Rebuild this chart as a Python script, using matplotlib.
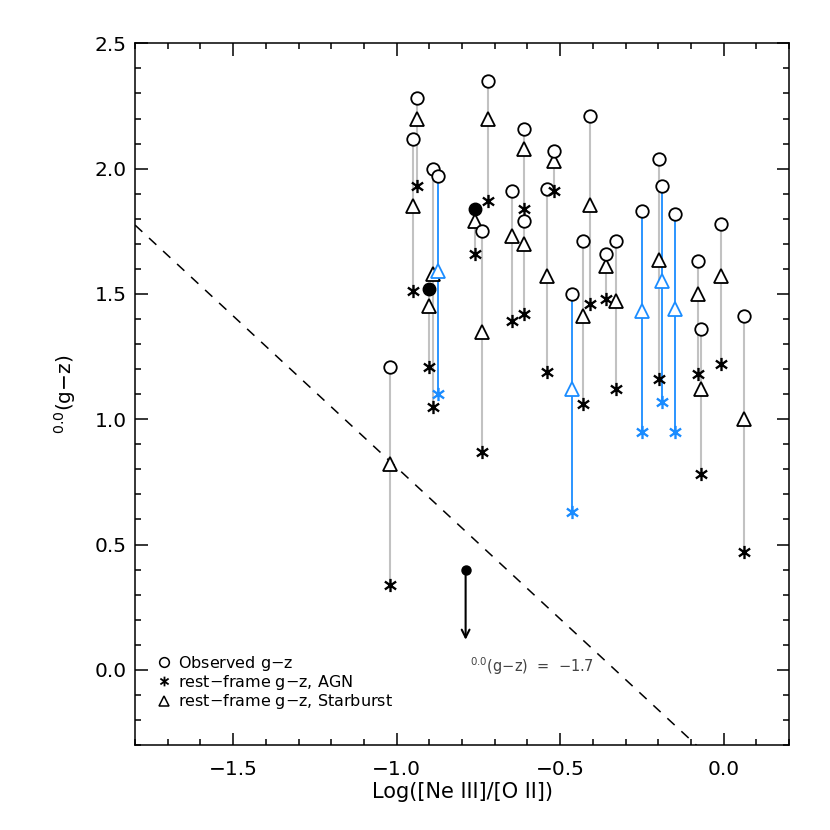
import numpy as np
import matplotlib
matplotlib.use('Agg')
import matplotlib.pyplot as plt
from matplotlib.path import Path
from matplotlib.lines import Line2D
from matplotlib.ticker import MultipleLocator

plt.rcParams['font.family'] = ['DejaVu Sans']
plt.rcParams['mathtext.default'] = 'regular'

# log([Ne III]/[O II]) of each object
x_ne = [-1.020, -0.950, -0.939, -0.900, -0.890, -0.873, -0.760, -0.739, -0.720,
        -0.648, -0.609, -0.609, -0.539, -0.519, -0.463, -0.429, -0.408, -0.359,
        -0.329, -0.251, -0.198, -0.189, -0.150, -0.078, -0.069, -0.008, 0.062]
# observed g-z (circles)
gz_obs = [1.21, 2.12, 2.28, 1.52, 2.00, 1.97, 1.84, 1.75, 2.35,
          1.91, 2.16, 1.79, 1.92, 2.07, 1.50, 1.71, 2.21, 1.66,
          1.71, 1.83, 2.04, 1.93, 1.82, 1.63, 1.36, 1.78, 1.41]
# rest-frame g-z, AGN template (asterisks)
gz_agn = [0.34, 1.51, 1.93, 1.21, 1.05, 1.10, 1.66, 0.87, 1.87,
          1.39, 1.84, 1.42, 1.19, 1.91, 0.63, 1.06, 1.46, 1.48,
          1.12, 0.95, 1.16, 1.07, 0.95, 1.18, 0.78, 1.22, 0.47]
# rest-frame g-z, starburst template (triangles)
gz_sb = [0.82, 1.85, 2.20, 1.45, 1.58, 1.59, 1.79, 1.35, 2.20,
         1.73, 2.08, 1.70, 1.57, 2.03, 1.12, 1.41, 1.855, 1.61,
         1.47, 1.43, 1.635, 1.55, 1.44, 1.50, 1.12, 1.57, 1.00]
filled = [0, 0, 0, 1, 0, 0, 1, 0, 0,
          0, 0, 0, 0, 0, 0, 0, 0, 0,
          0, 0, 0, 0, 0, 0, 0, 0, 0]
blue = [0, 0, 0, 0, 0, 1, 0, 0, 0,
        0, 0, 0, 0, 0, 1, 0, 0, 0,
        0, 1, 0, 1, 1, 0, 0, 0, 0]

# upper limit object
lim_x = -0.789
lim_y = 0.40
lim_dy = 0.28

# dividing line: g-z = slope * (x - x0)
line_slope = -1.209
line_x0 = -0.332

BLUE = '#1a8cff'
GREY = '#c2c2c2'

# IDL style asterisk
star = Path([(0, -1), (0, 1), (-0.85, -0.6), (0.85, 0.6), (-0.85, 0.6), (0.85, -0.6)],
            [Path.MOVETO, Path.LINETO, Path.MOVETO, Path.LINETO, Path.MOVETO, Path.LINETO])

fig = plt.figure(figsize=(8.3, 8.3), dpi=100)
ax = fig.add_axes([0.1627, 0.1024, 0.7879, 0.8454])

for i in range(len(x_ne)):
    low = min(gz_agn[i], gz_sb[i])
    col = BLUE if blue[i] else GREY
    lw = 1.3 if blue[i] else 1.5
    ax.plot([x_ne[i], x_ne[i]], [gz_obs[i], low], color=col, lw=lw, zorder=1)

for i in range(len(x_ne)):
    mc = BLUE if blue[i] else 'k'
    ax.plot(x_ne[i], gz_sb[i], marker='^', ms=9.5, mfc='white', mec=mc, mew=1.3, zorder=3)
    ax.plot(x_ne[i], gz_agn[i], marker=star, ms=9.5, mec=mc, mew=1.7, zorder=3)
    if filled[i]:
        ax.plot(x_ne[i], gz_obs[i], marker='o', ms=9, mfc='k', mec='k', zorder=3)
    else:
        ax.plot(x_ne[i], gz_obs[i], marker='o', ms=9, mfc='white', mec='k', mew=1.3, zorder=3)

# upper limit
ax.plot(lim_x, lim_y, marker='o', ms=6.5, color='k', zorder=3)
ax.annotate('', xy=(lim_x, lim_y - lim_dy), xytext=(lim_x, lim_y),
            arrowprops=dict(arrowstyle='->', color='k', lw=1.5, mutation_scale=14,
                            shrinkA=0, shrinkB=0))

# dividing line
xl = np.array([-1.8, 0.2])
ax.plot(xl, line_slope * (xl - line_x0), color='k', lw=1.1, ls=(0, (6.5, 6)), zorder=2)
ax.text(-0.776, -0.01, '$^{0.0}$(g$-$z)  =  $-$1.7', fontsize=10.5, color='#444444',
        ha='left', va='baseline')

ax.set_xlim(-1.8, 0.2)
ax.set_ylim(-0.3, 2.5)
ax.xaxis.set_major_locator(MultipleLocator(0.5))
ax.xaxis.set_minor_locator(MultipleLocator(0.1))
ax.yaxis.set_major_locator(MultipleLocator(0.5))
ax.yaxis.set_minor_locator(MultipleLocator(0.1))
ax.xaxis.set_major_formatter(lambda v, p: f'{v:.1f}'.replace('-', '\u2212'))
ax.yaxis.set_major_formatter(lambda v, p: f'{v:.1f}'.replace('-', '\u2212'))
ax.tick_params(which='both', direction='in', top=True, right=True, width=1.1)
ax.tick_params(which='major', length=9, labelsize=14.5)
ax.tick_params(axis='x', which='major', pad=11)
ax.tick_params(axis='y', which='major', pad=6)
ax.tick_params(which='minor', length=4.5)
for s in ax.spines.values():
    s.set_linewidth(1.1)

ax.set_xlabel('Log([Ne III]/[O II])', fontsize=15, labelpad=2)
ax.set_ylabel('$^{0.0}$(g$-$z)', fontsize=14.5, labelpad=12)

handles = [
    Line2D([], [], ls='none', marker='o', ms=7, mfc='white', mec='k', mew=1.1),
    Line2D([], [], ls='none', marker=star, ms=7, mec='k', mew=1.3),
    Line2D([], [], ls='none', marker='^', ms=7, mfc='white', mec='k', mew=1.1),
]
labels = ['Observed g$-$z', 'rest$-$frame g$-$z, AGN', 'rest$-$frame g$-$z, Starburst']
ax.legend(handles, labels, loc='lower left', bbox_to_anchor=(0.035, 0.048), frameon=False,
          fontsize=11.5, handlelength=0.8, handletextpad=0.45, labelspacing=0.02,
          borderpad=0, borderaxespad=0)

fig.savefig('out.png', dpi=100)
